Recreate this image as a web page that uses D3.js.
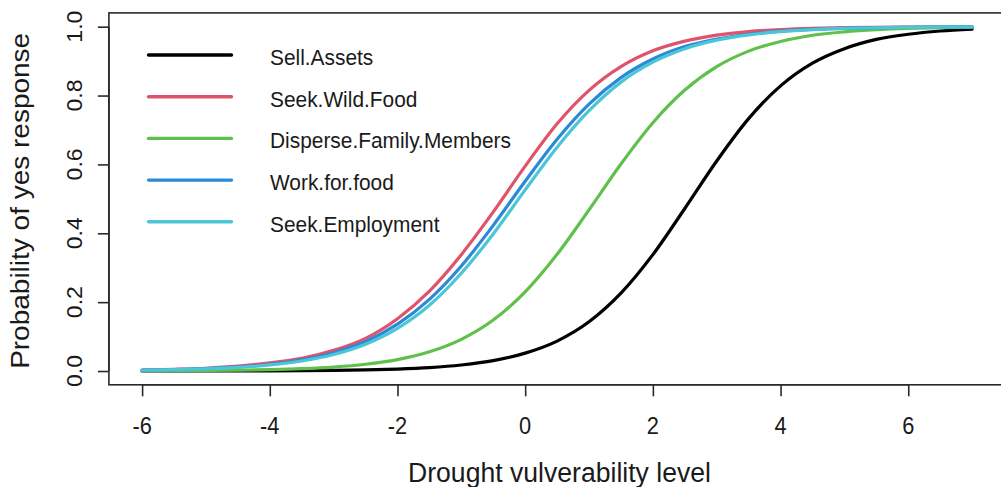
<!DOCTYPE html>
<html>
<head>
<meta charset="utf-8">
<script src="https://cdn.jsdelivr.net/npm/d3@7"></script>
<style>
  html, body { margin: 0; padding: 0; background: #fff; }
  svg { display: block; }
  text { font-family: "Liberation Sans", Arial, sans-serif; fill: #1a1a1a; }
</style>
</head>
<body>
<svg id="chart" width="1001" height="487"></svg>
<script>
// Drought vulnerability level (x) at which each response probability is given
const levels = [-6, -5.5, -5, -4.5, -4, -3.5, -3, -2.5, -2, -1.5, -1, -0.5, 0,
                0.5, 1, 1.5, 2, 2.5, 3, 3.5, 4, 4.5, 5, 5.5, 6, 6.5, 7];

// Probability of a "yes" response for each coping strategy
const sellAssets = [0.0001, 0.0001, 0.0002, 0.0004, 0.0006, 0.0011, 0.0019, 0.0033, 0.0058,
                    0.010, 0.0175, 0.030, 0.052, 0.087, 0.143, 0.226, 0.338, 0.472, 0.61,
                    0.733, 0.828, 0.894, 0.936, 0.963, 0.978, 0.9875, 0.993];
const seekWildFood = [0.003, 0.005, 0.008, 0.014, 0.024, 0.037, 0.060, 0.095, 0.152,
                      0.232, 0.338, 0.462, 0.595, 0.718, 0.815, 0.884, 0.930, 0.958, 0.9755,
                      0.9857, 0.9917, 0.9952, 0.9972, 0.9984, 0.9991, 0.9995, 0.9997];
const disperseFamily = [0.0005, 0.0008, 0.0014, 0.0023, 0.004, 0.0068, 0.0115, 0.0196, 0.0332,
                        0.0557, 0.092, 0.148, 0.230, 0.339, 0.468, 0.601, 0.721, 0.816, 0.884,
                        0.929, 0.957, 0.975, 0.985, 0.9913, 0.9949, 0.997, 0.9983];
const workForFood = [0.0025, 0.0042, 0.0071, 0.0118, 0.0196, 0.0323, 0.0532, 0.0855, 0.136,
                     0.208, 0.305, 0.423, 0.551, 0.673, 0.775, 0.852, 0.906, 0.942, 0.964,
                     0.978, 0.987, 0.9922, 0.9953, 0.9972, 0.9983, 0.999, 0.9994];
const seekEmployment = [0.0023, 0.0038, 0.0064, 0.0106, 0.0177, 0.0292, 0.048, 0.0779, 0.124,
                        0.191, 0.284, 0.398, 0.526, 0.650, 0.756, 0.839, 0.897, 0.936, 0.961,
                        0.976, 0.9856, 0.9913, 0.9948, 0.9969, 0.9981, 0.9989, 0.9993];

const seriesNames = ["Sell.Assets", "Seek.Wild.Food", "Disperse.Family.Members",
                     "Work.for.food", "Seek.Employment"];
const seriesValues = [sellAssets, seekWildFood, disperseFamily, workForFood, seekEmployment];
const seriesColors = ["#000000", "#df536b", "#61c04c", "#2a8ad8", "#4cc6d6"];

const xTicks = [-6, -4, -2, 0, 2, 4, 6];
const yTicks = [0, 0.2, 0.4, 0.6, 0.8, 1.0];

const xAxisTitle = "Drought vulverability level";
const yAxisTitle = "Probability of yes response";

const svg = d3.select("#chart");
const squeeze = 0.95; // text is slightly condensed horizontally

// Plot region follows R's 4% padding around the data range
const x = d3.scaleLinear().domain([-6.52, 7.52]).range([108.9, 1005.3]);
const y = d3.scaleLinear().domain([-0.04, 1.04]).range([384.8, 12.9]);

// Curves
const line = d3.line()
  .x(d => x(d[0]))
  .y(d => y(d[1]))
  .curve(d3.curveMonotoneX);

seriesValues.forEach((vals, i) => {
  svg.append("path")
    .datum(levels.map((lv, j) => [lv, vals[j]]))
    .attr("d", line)
    .attr("fill", "none")
    .attr("stroke", seriesColors[i])
    .attr("stroke-width", 3.2)
    .attr("stroke-linejoin", "round")
    .attr("stroke-linecap", "round");
});

// Plot frame
svg.append("rect")
  .attr("x", x.range()[0])
  .attr("y", y.range()[1])
  .attr("width", x.range()[1] - x.range()[0])
  .attr("height", y.range()[0] - y.range()[1])
  .attr("fill", "none")
  .attr("stroke", "#2a2a2a")
  .attr("stroke-width", 1.6);

// Bottom axis
const xAxis = svg.append("g")
  .attr("transform", `translate(0,${y.range()[0]})`)
  .call(d3.axisBottom(x).tickValues(xTicks).tickSize(11.5).tickFormat(""));
xAxis.select(".domain")
  .attr("d", `M${x(xTicks[0])},0H${x(xTicks[xTicks.length - 1])}`)
  .attr("stroke", "#2a2a2a").attr("stroke-width", 1.6);
xAxis.selectAll(".tick line").attr("stroke", "#2a2a2a").attr("stroke-width", 1.6);

svg.append("g").selectAll("text")
  .data(xTicks)
  .join("text")
  .attr("transform", d => `translate(${x(d)},433.5) scale(${squeeze},1)`)
  .attr("text-anchor", "middle")
  .attr("font-size", 23)
  .text(d => String(d));

// Left axis
const yAxis = svg.append("g")
  .attr("transform", `translate(${x.range()[0]},0)`)
  .call(d3.axisLeft(y).tickValues(yTicks).tickSize(11).tickFormat(""));
yAxis.select(".domain")
  .attr("d", `M0,${y(yTicks[0])}V${y(yTicks[yTicks.length - 1])}`)
  .attr("stroke", "#2a2a2a").attr("stroke-width", 1.6);
yAxis.selectAll(".tick line").attr("stroke", "#2a2a2a").attr("stroke-width", 1.6);

svg.append("g").selectAll("text")
  .data(yTicks)
  .join("text")
  .attr("transform", d => `translate(82,${y(d)}) scale(${squeeze},1) rotate(-90)`)
  .attr("text-anchor", "middle")
  .attr("font-size", 23)
  .text(d => d.toFixed(1));

// Axis titles
svg.append("text")
  .attr("transform", `translate(559.5,481.5) scale(${squeeze},1)`)
  .attr("text-anchor", "middle")
  .attr("font-size", 28)
  .text(xAxisTitle);

svg.append("text")
  .attr("transform", `translate(29,${(y(0) + y(1)) / 2 + 2}) scale(${squeeze},1) rotate(-90)`)
  .attr("text-anchor", "middle")
  .attr("font-size", 28)
  .text(yAxisTitle);

// Legend
const legend = svg.append("g");
seriesNames.forEach((name, i) => {
  const ly = 55 + i * 41.7;
  legend.append("line")
    .attr("x1", 148.5).attr("x2", 231.5)
    .attr("y1", ly).attr("y2", ly)
    .attr("stroke", seriesColors[i])
    .attr("stroke-width", 3.4)
    .attr("stroke-linecap", "round");
  legend.append("text")
    .attr("transform", `translate(270,${ly + 9.8}) scale(${squeeze},1)`)
    .attr("font-size", 22)
    .text(name);
});
</script>
</body>
</html>
